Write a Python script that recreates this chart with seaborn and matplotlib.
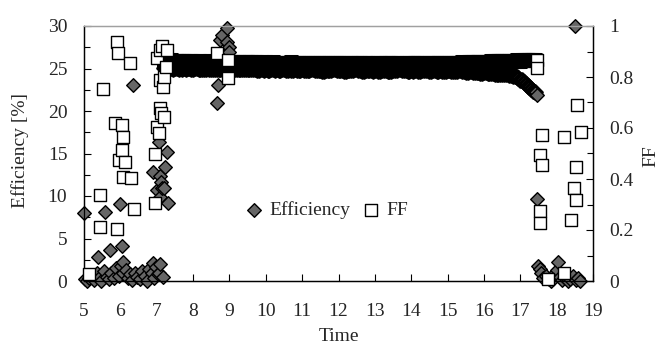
import matplotlib
matplotlib.use('Agg')
import matplotlib.pyplot as plt
import seaborn as sns
import pandas as pd
from matplotlib.ticker import MultipleLocator, FuncFormatter

# ---------------- data ----------------
# Efficiency [%] (left axis)
eff_early_time = [5.00, 5.02, 5.08, 5.15, 5.22, 5.28, 5.35, 5.39, 5.42, 5.48, 5.55, 5.58,
                  5.62, 5.68, 5.72, 5.75, 5.82, 5.88, 5.95, 5.99, 6.02, 6.04, 6.08, 6.08,
                  6.15, 6.20, 6.27, 6.33, 6.35, 6.40, 6.47, 6.53, 6.60, 6.67, 6.73, 6.80,
                  6.86, 6.90, 6.90, 6.92, 6.98, 7.00, 7.03, 7.05, 7.06, 7.09, 7.09, 7.10,
                  7.12, 7.15, 7.18, 7.20, 7.23, 7.28, 7.30]
eff_early_val = [8.0, 0.2, 0.0, 0.3, 0.6, 0.1, 0.9, 2.8, 0.4, 0.0, 1.2, 8.1,
                 0.5, 0.2, 3.7, 1.0, 0.3, 1.5, 0.6, 9.1, 1.8, 4.1, 0.9, 2.2,
                 1.3, 0.4, 0.8, 0.1, 23.1, 1.0, 0.5, 0.2, 1.2, 0.6, 0.0, 1.4,
                 1.0, 12.8, 2.1, 0.3, 1.6, 10.7, 0.8, 1.0, 16.4, 12.3, 9.9, 2.0,
                 11.7, 10.9, 0.5, 11.0, 13.4, 15.2, 9.2]

plateau_time = [7.20, 7.25, 7.30, 7.35, 7.40, 7.45, 7.50, 7.55, 7.60, 7.65, 7.70, 7.75, 7.80, 7.85, 7.90, 7.95,
                8.00, 8.05, 8.10, 8.15, 8.20, 8.25, 8.30, 8.35, 8.40, 8.45, 8.50, 8.55, 8.60, 8.65, 8.70, 8.75, 8.80, 8.85, 8.90, 8.95,
                9.00, 9.05, 9.10, 9.15, 9.20, 9.25, 9.30, 9.35, 9.40, 9.45, 9.50, 9.55, 9.60, 9.65, 9.70, 9.75, 9.80, 9.85, 9.90, 9.95,
                10.00, 10.05, 10.10, 10.15, 10.20, 10.25, 10.30, 10.35, 10.40, 10.45, 10.50, 10.55, 10.60, 10.65, 10.70, 10.75, 10.80, 10.85, 10.90, 10.95,
                11.00, 11.05, 11.10, 11.15, 11.20, 11.25, 11.30, 11.35, 11.40, 11.45, 11.50, 11.55, 11.60, 11.65, 11.70, 11.75, 11.80, 11.85, 11.90, 11.95,
                12.00, 12.05, 12.10, 12.15, 12.20, 12.25, 12.30, 12.35, 12.40, 12.45, 12.50, 12.55, 12.60, 12.65, 12.70, 12.75, 12.80, 12.85, 12.90, 12.95,
                13.00, 13.05, 13.10, 13.15, 13.20, 13.25, 13.30, 13.35, 13.40, 13.45, 13.50, 13.55, 13.60, 13.65, 13.70, 13.75, 13.80, 13.85, 13.90, 13.95,
                14.00, 14.05, 14.10, 14.15, 14.20, 14.25, 14.30, 14.35, 14.40, 14.45, 14.50, 14.55, 14.60, 14.65, 14.70, 14.75, 14.80, 14.85, 14.90, 14.95,
                15.00, 15.05, 15.10, 15.15, 15.20, 15.25, 15.30, 15.35, 15.40, 15.45, 15.50, 15.55, 15.60, 15.65, 15.70, 15.75, 15.80, 15.85, 15.90, 15.95,
                16.00, 16.05, 16.10, 16.15, 16.20, 16.25, 16.30, 16.35, 16.40, 16.45, 16.50, 16.55, 16.60, 16.65, 16.70, 16.75, 16.80, 16.85, 16.90, 16.95,
                17.00, 17.05, 17.10, 17.15, 17.20, 17.25, 17.30, 17.35, 17.40]
eff_plateau = [25.1, 25.0, 25.1, 25.2, 25.1, 25.0, 25.1, 25.1, 25.0, 25.1, 25.0, 25.1, 25.0, 25.1, 25.1, 25.0,
               25.0, 25.1, 25.1, 25.0, 25.0, 24.9, 25.0, 25.0, 25.1, 25.0, 25.0, 24.9, 25.0, 25.0, 24.9, 25.0, 25.0, 25.0, 24.9, 25.0,
               24.9, 25.0, 25.0, 24.9, 24.9, 25.0, 24.9, 24.9, 24.9, 25.0, 24.9, 24.9, 25.0, 24.9, 24.9, 24.8, 24.8, 24.9, 24.9, 24.8,
               24.9, 24.8, 24.8, 24.9, 24.9, 24.8, 24.9, 24.8, 24.8, 24.9, 24.9, 24.8, 24.8, 24.9, 24.8, 24.8, 24.9, 24.8, 24.8, 24.8,
               24.9, 24.8, 24.8, 24.8, 24.8, 24.9, 24.9, 24.8, 24.8, 24.8, 24.8, 24.7, 24.7, 24.8, 24.8, 24.8, 24.8, 24.9, 24.9, 24.8,
               24.8, 24.8, 24.8, 24.7, 24.7, 24.8, 24.8, 24.8, 24.8, 24.9, 24.9, 24.8, 24.8, 24.7, 24.7, 24.8, 24.8, 24.8, 24.8, 24.7,
               24.8, 24.8, 24.7, 24.7, 24.8, 24.8, 24.8, 24.7, 24.7, 24.7, 24.8, 24.8, 24.8, 24.9, 24.9, 24.8, 24.8, 24.8, 24.7, 24.7,
               24.8, 24.7, 24.8, 24.8, 24.7, 24.7, 24.8, 24.8, 24.8, 24.8, 24.7, 24.7, 24.8, 24.8, 24.7, 24.7, 24.8, 24.7, 24.7, 24.7,
               24.8, 24.8, 24.7, 24.7, 24.7, 24.7, 24.8, 24.8, 24.7, 24.7, 24.6, 24.6, 24.7, 24.7, 24.6, 24.6, 24.6, 24.6, 24.5, 24.5,
               24.6, 24.6, 24.5, 24.5, 24.5, 24.5, 24.4, 24.4, 24.4, 24.4, 24.3, 24.3, 24.3, 24.3, 24.2, 24.2, 24.1, 24.1, 24.0, 23.9,
               23.7, 23.6, 23.4, 23.2, 23.0, 22.8, 22.6, 22.4, 22.2]

eff_spike_time = [8.66, 8.69, 8.74, 8.80, 8.93, 8.93, 9.00, 9.00]
eff_spike_val = [20.9, 23.1, 28.4, 28.9, 29.8, 28.1, 27.5, 26.9]

eff_late_time = [17.45, 17.46, 17.50, 17.54, 17.58, 17.62, 17.70, 17.78, 17.85, 17.92,
                 18.00, 18.04, 18.10, 18.15, 18.22, 18.30, 18.38, 18.45, 18.50, 18.52,
                 18.58, 18.64]
eff_late_val = [21.9, 9.6, 1.8, 1.4, 0.9, 0.3, 0.6, 0.2, 0.0, 0.8,
                1.3, 2.2, 0.5, 0.1, 0.4, 0.0, 0.2, 0.6, 30.0, 0.1,
                0.3, 0.0]

# FF (right axis)
ff_early_time = [5.15, 5.44, 5.44, 5.53, 5.86, 5.91, 5.92, 5.94, 5.95, 6.05, 6.05, 6.08,
                 6.08, 6.13, 6.27, 6.30, 6.38, 6.95, 6.95, 7.00, 7.00, 7.05, 7.09, 7.09,
                 7.09, 7.12, 7.15, 7.18, 7.19]
ff_early_val = [0.027, 0.337, 0.212, 0.753, 0.620, 0.937, 0.204, 0.894, 0.474, 0.610, 0.514, 0.565,
                0.408, 0.467, 0.855, 0.404, 0.282, 0.305, 0.500, 0.604, 0.875, 0.580, 0.680, 0.790,
                0.906, 0.660, 0.920, 0.760, 0.643]

ff_plateau = [0.866, 0.864, 0.862, 0.865, 0.865, 0.863, 0.860, 0.862, 0.864, 0.862, 0.861, 0.863, 0.863, 0.861, 0.860, 0.862,
              0.862, 0.860, 0.859, 0.861, 0.861, 0.859, 0.858, 0.860, 0.860, 0.861, 0.862, 0.860, 0.859, 0.860, 0.861, 0.859, 0.858, 0.859, 0.860, 0.859,
              0.858, 0.859, 0.860, 0.858, 0.857, 0.858, 0.859, 0.857, 0.856, 0.857, 0.858, 0.857, 0.857, 0.858, 0.859, 0.857, 0.856, 0.856, 0.857, 0.856,
              0.857, 0.856, 0.855, 0.856, 0.857, 0.856, 0.856, 0.855, 0.854, 0.855, 0.856, 0.855, 0.855, 0.856, 0.857, 0.855, 0.854, 0.854, 0.855, 0.855,
              0.856, 0.855, 0.854, 0.854, 0.855, 0.854, 0.853, 0.854, 0.855, 0.855, 0.854, 0.854, 0.856, 0.855, 0.853, 0.854, 0.855, 0.854, 0.854, 0.853,
              0.853, 0.854, 0.855, 0.854, 0.854, 0.853, 0.852, 0.853, 0.854, 0.854, 0.853, 0.854, 0.855, 0.854, 0.852, 0.853, 0.854, 0.853, 0.853, 0.852,
              0.854, 0.853, 0.852, 0.853, 0.853, 0.854, 0.855, 0.854, 0.853, 0.853, 0.852, 0.853, 0.854, 0.854, 0.853, 0.852, 0.852, 0.853, 0.854, 0.853,
              0.853, 0.854, 0.855, 0.854, 0.853, 0.853, 0.854, 0.853, 0.852, 0.853, 0.854, 0.853, 0.853, 0.854, 0.855, 0.854, 0.854, 0.853, 0.853, 0.854,
              0.855, 0.854, 0.854, 0.855, 0.856, 0.855, 0.855, 0.856, 0.857, 0.856, 0.856, 0.857, 0.858, 0.857, 0.857, 0.858, 0.859, 0.858, 0.858, 0.859,
              0.860, 0.860, 0.859, 0.860, 0.861, 0.861, 0.862, 0.861, 0.861, 0.862, 0.863, 0.862, 0.862, 0.863, 0.864, 0.863, 0.863, 0.864, 0.865, 0.864,
              0.864, 0.865, 0.866, 0.866, 0.865, 0.867, 0.867, 0.866, 0.866]

ff_spike_time = [7.20, 7.25, 7.28, 8.66, 8.96, 8.96]
ff_spike_val = [0.800, 0.840, 0.906, 0.894, 0.867, 0.796]

ff_late_time = [17.45, 17.45, 17.54, 17.54, 17.54, 17.60, 17.60, 17.76, 18.20, 18.20,
                18.40, 18.48, 18.53, 18.53, 18.56, 18.67]
ff_late_val = [0.867, 0.835, 0.494, 0.275, 0.228, 0.573, 0.455, 0.008, 0.565, 0.031,
               0.239, 0.365, 0.447, 0.318, 0.690, 0.584]

x_ticks = [5, 6, 7, 8, 9, 10, 11, 12, 13, 14, 15, 16, 17, 18, 19]

# ---------------- tables ----------------
eff_band = pd.DataFrame({'Time': plateau_time, 'Efficiency': eff_plateau})
ff_band = pd.DataFrame({'Time': plateau_time, 'FF': ff_plateau})
eff_rest = pd.DataFrame({
    'Time': eff_early_time + eff_spike_time + eff_late_time,
    'Efficiency': eff_early_val + eff_spike_val + eff_late_val,
})
ff_rest = pd.DataFrame({
    'Time': ff_early_time + ff_spike_time + ff_late_time,
    'FF': ff_early_val + ff_spike_val + ff_late_val,
})

# ---------------- figure ----------------
sns.set_theme(style='white')
plt.rcParams['font.family'] = ['Liberation Serif', 'DejaVu Serif']
plt.rcParams['font.size'] = 14

fig = plt.figure(figsize=(6.63, 3.45), dpi=100)
ax = fig.add_axes([84 / 663, 1 - 281 / 345, 509 / 663, 255 / 345])
ax2 = ax.twinx()

DIA = dict(marker='D', s=48, color='#666666', edgecolor='black', clip_on=False)
SQR = dict(marker='s', s=76, color='white', edgecolor='black', clip_on=False)

# dense measurement band (markers overlap into a solid dark band)
sns.scatterplot(data=eff_band, x='Time', y='Efficiency', ax=ax, linewidth=2.2,
                legend=False, zorder=3, **DIA)
sns.scatterplot(data=eff_rest, x='Time', y='Efficiency', ax=ax, linewidth=1.0,
                label='Efficiency', legend=False, zorder=4, **DIA)
sns.scatterplot(data=ff_band, x='Time', y='FF', ax=ax2, linewidth=2.2,
                legend=False, zorder=3, **SQR)
sns.scatterplot(data=ff_rest, x='Time', y='FF', ax=ax2, linewidth=1.0,
                label='FF', legend=False, zorder=4, **SQR)

ax.set_xlim(5, 19)
ax.set_ylim(0, 30)
ax2.set_ylim(0, 1)

ax.set_xticks(x_ticks)
ax.yaxis.set_major_locator(MultipleLocator(5))
ax.yaxis.set_minor_locator(MultipleLocator(2.5))
ax2.yaxis.set_major_locator(MultipleLocator(0.2))
ax2.yaxis.set_minor_locator(MultipleLocator(0.1))
fmt = FuncFormatter(lambda v, p: '%g' % round(v, 6))
ax.xaxis.set_major_formatter(fmt)
ax.yaxis.set_major_formatter(fmt)
ax2.yaxis.set_major_formatter(fmt)

ax.tick_params(axis='x', which='major', direction='in', length=5, width=0.8,
               color='black', labelsize=14, pad=16, bottom=True, top=False)
ax.tick_params(axis='y', which='major', direction='in', length=5, width=0.8,
               color='black', labelsize=14, pad=12, left=True, right=False)
ax.tick_params(axis='y', which='minor', direction='in', length=4, width=0.8,
               color='black', left=True, right=False)
ax2.tick_params(axis='y', which='major', direction='in', length=5, width=0.8,
                color='black', labelsize=14, pad=12, right=True, left=False)
ax2.tick_params(axis='y', which='minor', direction='in', length=4, width=0.8,
                color='black', right=True, left=False)

for a in (ax, ax2):
    for side in ('left', 'right', 'bottom'):
        a.spines[side].set_color('black')
        a.spines[side].set_linewidth(0.9)
    a.spines['top'].set_color('#a0a0a0')
    a.spines['top'].set_linewidth(0.9)
    a.grid(False)

ax.set_xlabel('Time', fontsize=14)
ax.set_ylabel('Efficiency [%]', fontsize=14)
ax2.set_ylabel('FF', fontsize=14)
ax.xaxis.set_label_coords(0.5, -0.185)
ax.yaxis.set_label_coords(-0.108, 0.51)
ax2.yaxis.set_label_coords(1.098, 0.49)

h1, l1 = ax.get_legend_handles_labels()
h2, l2 = ax2.get_legend_handles_labels()
ax2.legend(h1 + h2, l1 + l2, loc='center', bbox_to_anchor=(0.476, 0.278),
           ncol=2, frameon=False, handlelength=1.0, handletextpad=0.3,
           columnspacing=0.55, fontsize=14, borderpad=0.2)

fig.savefig('out.png', dpi=100)
